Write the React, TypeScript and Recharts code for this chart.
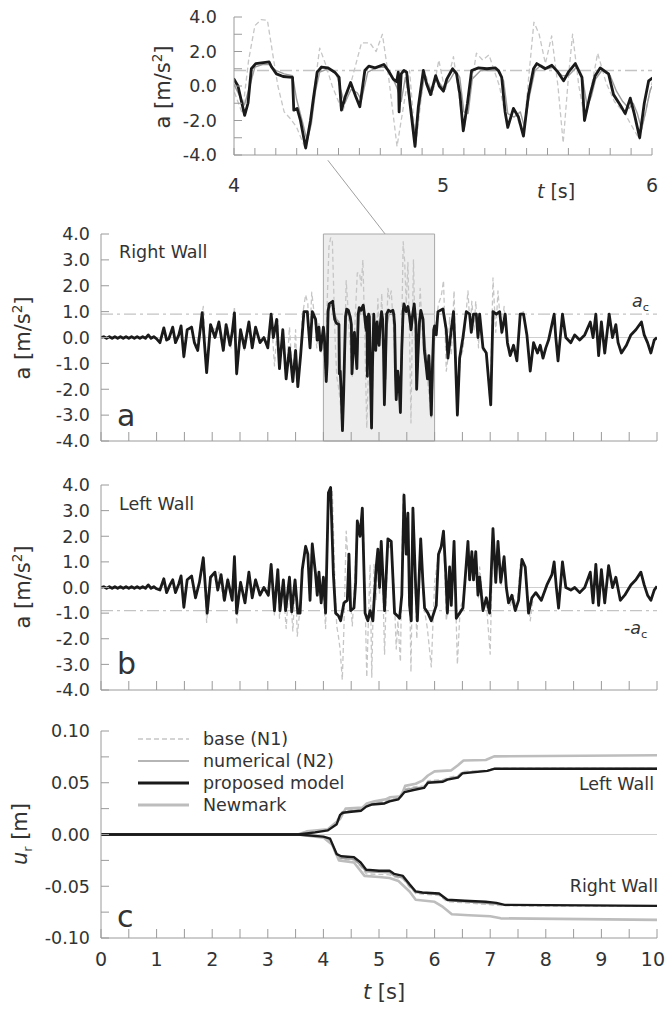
import React from "react";
import {
  ComposedChart,
  Line,
  XAxis,
  YAxis,
  ReferenceLine,
  ReferenceArea,
  Legend,
} from "recharts";

const FONT = "'DejaVu Sans', 'Liberation Sans', sans-serif";
const INK = "#333";
const AXIS = "#9a9a9a";

// ---- ticks -------------------------------------------------------------
const panelTimeTicks = [0, 0.5, 1, 1.5, 2, 2.5, 3, 3.5, 4, 4.5, 5, 5.5, 6, 6.5, 7, 7.5, 8, 8.5, 9, 9.5, 10];
const panelTimeLabels = [0, 1, 2, 3, 4, 5, 6, 7, 8, 9, 10];
const insetTimeTicks = [4, 4.1, 4.2, 4.3, 4.4, 4.5, 4.6, 4.7, 4.8, 4.9, 5, 5.1, 5.2, 5.3, 5.4, 5.5, 5.6, 5.7, 5.8, 5.9, 6];
const insetTimeLabels = [4, 5, 6];
const accTicks = [-4, -3, -2, -1, 0, 1, 2, 3, 4];
const insetAccLabels = [-4, -2, 0, 2, 4];
const dispTicks = [-0.1, -0.075, -0.05, -0.025, 0, 0.025, 0.05, 0.075, 0.1];
const dispLabels = [-0.1, -0.05, 0, 0.05, 0.1];
const A_C = 0.9;

// ---- accelerations [t (s), a (m/s2)] -----------------------------------
// proposed model, right wall (panel a + inset)
const rightWallAcc = [
  [0, 0], [0.05, 0.03], [0.1, -0.03], [0.15, 0.03], [0.2, -0.03], [0.25, 0.03], [0.3, -0.03],
  [0.35, 0.03], [0.4, -0.03], [0.45, 0.03], [0.5, -0.03], [0.55, 0.03], [0.6, -0.03], [0.65, 0.03],
  [0.7, -0.03], [0.75, 0.03], [0.8, -0.03], [0.85, 0.1], [0.9, -0.03], [0.95, 0.03], [1.0, -0.05],
  [1.06, -0.2], [1.13, 0.37], [1.18, -0.1], [1.22, -0.05], [1.29, 0.4], [1.34, -0.2], [1.4, 0.1],
  [1.44, 0.45], [1.49, -0.74], [1.55, 0.3], [1.63, 0.4], [1.68, -0.2], [1.74, -0.5], [1.82, 0.96],
  [1.9, -1.36], [1.97, 0.5], [2.05, 0], [2.12, 0.6], [2.2, -0.5], [2.25, 0.5], [2.32, -0.3],
  [2.36, 0.2], [2.4, 0.95], [2.44, -1.4], [2.51, 0.3], [2.58, -0.4], [2.66, 0.6], [2.72, -0.4],
  [2.78, 0.4], [2.86, -0.2], [2.93, 0], [3.0, -0.4], [3.06, 0.9], [3.1, 0], [3.16, 0.7],
  [3.21, -1.2], [3.27, 0.3], [3.33, -1.6], [3.39, -0.4], [3.45, -1.7], [3.5, -0.5], [3.54, -1.9],
  [3.59, -0.7], [3.65, 1.0], [3.71, 1.0], [3.76, -0.4], [3.8, 1.0], [3.86, 0.7], [3.89, -0.1],
  [3.92, 0.4], [3.95, -0.5],
  [4.0, 0.4], [4.019, 0], [4.051, -1.7], [4.067, -1.0], [4.083, 1.0], [4.104, 1.3], [4.168, 1.4],
  [4.18, 1.1], [4.203, 0.7], [4.235, 0.55], [4.28, 0.5], [4.286, -1.4], [4.302, -1.3], [4.318, -2.0],
  [4.343, -3.6], [4.366, -2.0], [4.379, -0.8], [4.398, 0.8], [4.419, 1.1], [4.45, 1.05], [4.482, 0.8],
  [4.503, 0.5], [4.514, -1.4], [4.533, -0.6], [4.558, 0.2], [4.582, -0.6], [4.602, -1.2], [4.626, 0.9],
  [4.645, 1.15], [4.675, 1.05], [4.717, 1.25], [4.738, 0.9], [4.762, 0.4], [4.778, 0.25], [4.786, 0.8],
  [4.79, -1.5], [4.8, 0.7], [4.813, 0.9], [4.826, 0.8], [4.842, -1.0], [4.866, -3.5], [4.882, -1.2],
  [4.906, 0.9], [4.922, 0.1], [4.941, -0.5], [4.965, 0.6], [4.982, 0], [5.002, -0.3], [5.018, 0.4],
  [5.046, 1.0], [5.065, 0.7], [5.081, -0.5], [5.097, -2.6], [5.117, -1.0], [5.137, 0.9], [5.17, 1.05],
  [5.21, 1.0], [5.25, 1.05], [5.265, 0.9], [5.281, 0.5], [5.297, -1.5], [5.31, -2.4], [5.337, -1.3],
  [5.361, -1.8], [5.385, -2.9], [5.409, -0.5], [5.433, 1.0], [5.449, 1.3], [5.489, 1.0], [5.521, 1.2],
  [5.55, 0.8], [5.577, 0.3], [5.6, 0.8], [5.633, 1.3], [5.665, 0.5], [5.677, -2.0], [5.704, -0.5],
  [5.728, 0.6], [5.752, 1.05], [5.792, 0.7], [5.816, -0.5], [5.848, -1.1], [5.872, -1.6], [5.896, -0.7],
  [5.915, -1.6], [5.941, -3.0], [5.963, -1.0], [5.984, 0.3], [6.0, 0.45],
  [6.03, 0.1], [6.06, 1.0], [6.15, 1.1], [6.21, 0.3], [6.24, -0.8], [6.3, 0.3], [6.34, 1.0],
  [6.37, -0.5], [6.41, -3.0], [6.45, -0.8], [6.51, 0], [6.57, 1.0], [6.63, 0.9], [6.66, 0.2],
  [6.7, 0.9], [6.75, 0.9], [6.78, 0], [6.81, 0.9], [6.87, -0.4], [6.93, -0.6], [7.01, -2.6],
  [7.05, 1.0], [7.11, 0.9], [7.17, 1.0], [7.21, 0.2], [7.27, 0.9], [7.31, -0.2], [7.36, -0.7],
  [7.42, -0.3], [7.48, -0.9], [7.54, 0.9], [7.6, 0.9], [7.66, 0.1], [7.72, -1.3], [7.78, -0.2],
  [7.85, -0.6], [7.9, -0.3], [7.95, -0.8], [8.0, -0.4], [8.05, -0.1], [8.11, 0.5], [8.15, 0.9],
  [8.18, 0], [8.22, -0.9], [8.3, 0.9], [8.36, 0], [8.45, -0.2], [8.52, 0.1], [8.61, -0.1],
  [8.7, 0.1], [8.8, 0.6], [8.85, 0], [8.9, 0.9], [8.95, -0.7], [9.0, 0.6], [9.06, -0.6],
  [9.14, 0.9], [9.2, 0], [9.26, 0.5], [9.3, -0.2], [9.36, -0.6], [9.45, -0.3], [9.53, 0.1],
  [9.62, 0.3], [9.72, 0.6], [9.77, 0.1], [9.83, -0.2], [9.89, -0.6], [9.95, -0.1], [10, 0],
];

// proposed model, left wall (panel b)
const leftWallAcc = [
  [0, 0], [0.05, 0.03], [0.1, -0.03], [0.15, 0.03], [0.2, -0.03], [0.25, 0.03], [0.3, -0.03],
  [0.35, 0.03], [0.4, -0.03], [0.45, 0.03], [0.5, -0.03], [0.55, 0.03], [0.6, -0.03], [0.65, 0.03],
  [0.7, -0.03], [0.75, 0.03], [0.8, -0.03], [0.85, 0.1], [0.9, -0.03], [0.95, 0.03], [1.0, -0.05],
  [1.06, -0.1], [1.13, 0.34], [1.18, -0.2], [1.24, 0.1], [1.29, 0.3], [1.34, -0.2], [1.4, 0.15],
  [1.44, 0.45], [1.49, -0.77], [1.55, 0.3], [1.63, 0.45], [1.7, -0.4], [1.77, 0.2], [1.84, 1.16],
  [1.91, -1.0], [1.97, 0.4], [2.05, 0.6], [2.1, -0.1], [2.16, 0.5], [2.22, -0.5], [2.28, 0.3],
  [2.36, -0.5], [2.4, 1.2], [2.44, -1.0], [2.51, 0.2], [2.59, -0.6], [2.66, 0.6], [2.72, -0.4],
  [2.78, 0.3], [2.86, -0.3], [2.93, 0], [3.01, -0.3], [3.06, 0.9], [3.12, -0.9], [3.18, 0.7],
  [3.22, -0.9], [3.28, 0.3], [3.32, -0.9], [3.39, 0.4], [3.43, -0.95], [3.49, 0.3], [3.54, -1.0],
  [3.58, -1.0], [3.62, 0.7], [3.68, 1.6], [3.72, 1.3], [3.76, -0.5], [3.8, 1.7], [3.86, 0.5],
  [3.89, -0.3], [3.92, 0.6], [3.96, -0.6], [4.0, 0.4], [4.04, -1.0], [4.09, 3.7], [4.13, 3.9],
  [4.18, 0.5], [4.22, -1.0], [4.27, -1.1], [4.31, -1.3], [4.37, -0.6], [4.43, -0.5], [4.46, 1.3],
  [4.49, -0.9], [4.55, -0.8], [4.58, 0.2], [4.61, 2.6], [4.66, 2.0], [4.7, 3.1], [4.75, -1.0],
  [4.8, -1.3], [4.84, -0.9], [4.89, -1.3], [4.95, 0.8], [4.98, 1.5], [5.01, 0], [5.04, 1.8],
  [5.1, -0.9], [5.16, 1.9], [5.22, 1.8], [5.28, -1.0], [5.33, -1.1], [5.37, -1.2], [5.41, -0.3],
  [5.45, 3.6], [5.49, 1.3], [5.52, 2.9], [5.55, -0.7], [5.58, -1.3], [5.61, 3.1], [5.66, 0],
  [5.69, -1.3], [5.75, 1.9], [5.79, 0.2], [5.82, -0.8], [5.88, -1.0], [5.94, -1.3], [6.0, -0.9],
  [6.03, -0.7], [6.07, 1.3], [6.12, 1.6], [6.16, 2.2], [6.2, 0.6], [6.23, -1.0], [6.27, 0.8],
  [6.3, -0.7], [6.35, 1.8], [6.39, -1.2], [6.45, -1.0], [6.51, -0.8], [6.6, 1.8], [6.63, 0.3],
  [6.67, 1.4], [6.7, 0.3], [6.74, 1.4], [6.78, -0.3], [6.81, 0.4], [6.87, -0.9], [6.93, -0.4],
  [6.99, -1.0], [7.05, 2.3], [7.1, 0.2], [7.14, 1.8], [7.19, 0.2], [7.25, 1.2], [7.29, 0],
  [7.33, -0.6], [7.39, -0.3], [7.45, -0.9], [7.51, -0.5], [7.57, 1.1], [7.63, 0.8], [7.69, -1.0],
  [7.75, -0.4], [7.82, -0.2], [7.92, -0.5], [8.02, 0.1], [8.11, 0.5], [8.15, 1.0], [8.19, 0],
  [8.23, -0.8], [8.3, 1.0], [8.36, 0], [8.45, -0.1], [8.52, 0], [8.61, -0.2], [8.7, 0],
  [8.8, 0.6], [8.85, -0.6], [8.9, 0.9], [8.95, -0.7], [9.0, 0.7], [9.06, -0.6], [9.13, 0.85],
  [9.2, 0], [9.26, 0.4], [9.34, -0.5], [9.42, -0.3], [9.53, 0.1], [9.62, 0.3], [9.71, 0.6],
  [9.77, 0.1], [9.83, -0.3], [9.89, -0.5], [9.95, -0.1], [10, 0.05],
];

// base (N1) input
const baseAcc = [
  [1.4, 0.15], [1.44, 0.45], [1.49, -0.8], [1.55, 0.3], [1.63, 0.45], [1.7, -0.4], [1.77, 0.2],
  [1.84, 1.2], [1.9, -1.36], [1.97, 0.45], [2.05, 0.3], [2.12, 0.6], [2.2, -0.5], [2.28, 0.4],
  [2.34, -0.4], [2.4, 1.2], [2.44, -1.45], [2.51, 0.25], [2.58, -0.5], [2.66, 0.6], [2.72, -0.4],
  [2.78, 0.35], [2.86, -0.25], [2.93, 0], [3.01, -0.35], [3.06, 0.9], [3.12, -1.1], [3.18, 0.7],
  [3.21, -1.2], [3.27, 0.3], [3.33, -1.6], [3.39, 0.4], [3.45, -1.7], [3.5, 0.3], [3.53, -1.9],
  [3.58, -0.8], [3.62, 0.8], [3.68, 1.65], [3.72, 1.3], [3.75, -0.4], [3.79, 1.75], [3.84, 0.8],
  [3.88, -0.4], [3.92, 0.6], [3.96, -0.6], [4.0, -0.3], [4.04, -1.6], [4.07, 1.5], [4.1, 3.5],
  [4.13, 3.85], [4.16, 3.8], [4.19, 1.5], [4.21, 0], [4.24, -1.5], [4.27, -1.9], [4.3, -2.4],
  [4.34, -3.6], [4.37, -1.5], [4.41, 2.2], [4.44, 1.2], [4.47, 0], [4.5, -0.9], [4.52, -1.5],
  [4.56, 0.2], [4.61, 2.5], [4.65, 2.5], [4.68, 2.0], [4.71, 3.0], [4.74, 0.5], [4.78, -3.5],
  [4.82, -0.5], [4.84, 0.9], [4.87, -3.5], [4.91, 0.9], [4.95, -0.5], [4.98, 1.5], [5.01, -0.3],
  [5.05, 1.7], [5.1, -2.6], [5.16, 1.9], [5.19, 1.5], [5.22, 1.8], [5.27, 0], [5.31, -2.4],
  [5.34, -1.3], [5.385, -2.9], [5.41, 0.5], [5.435, 3.7], [5.46, 3.0], [5.49, 1.3], [5.52, 2.9],
  [5.55, 0], [5.575, -3.3], [5.6, 0.5], [5.62, 3.0], [5.65, 0], [5.68, -2.0], [5.74, 1.9],
  [5.78, 0.2], [5.82, -0.9], [5.87, -1.6], [5.94, -3.1], [6.0, 0.2], [6.07, 1.3], [6.12, 1.6],
  [6.16, 2.2], [6.21, -1.3], [6.24, -0.8], [6.27, 0.8], [6.3, -0.7], [6.35, 1.8], [6.41, -3.0],
  [6.46, -0.8], [6.51, -0.5], [6.6, 1.8], [6.64, 0.3], [6.67, 1.4], [6.71, 0.3], [6.74, 1.4],
  [6.79, -0.4], [6.81, 0.8], [6.87, -0.5], [6.93, -0.6], [7.0, -2.6], [7.05, 2.3], [7.1, 0.2],
  [7.14, 1.8], [7.2, 0.1], [7.25, 1.2], [7.3, -0.3], [7.36, -0.7], [7.42, -0.3], [7.48, -0.9],
  [7.54, 0.9], [7.6, 1.0], [7.66, 0.1], [7.72, -1.3], [7.78, -0.3],
];

// numerical (N2), right wall, 4-6 s
const numericalRightAcc = [
  [4.0, 0.1], [4.02, -0.4], [4.05, -1.1], [4.08, 0.2], [4.1, 1.1], [4.14, 1.25], [4.17, 1.25],
  [4.2, 0.9], [4.24, 0.7], [4.28, 0.6], [4.3, -0.8], [4.33, -2.2], [4.35, -3.2], [4.37, -2.2],
  [4.39, -0.3], [4.41, 0.8], [4.45, 1.0], [4.49, 0.7], [4.51, -0.2], [4.53, -1.0], [4.56, -0.2],
  [4.59, -0.4], [4.61, -0.8], [4.64, 0.8], [4.68, 1.05], [4.72, 1.1], [4.75, 0.7], [4.78, -0.1],
  [4.8, -0.9], [4.82, 0.5], [4.85, -1.5], [4.87, -3.0], [4.89, -1.0], [4.91, 0.5], [4.94, -0.2],
  [4.97, 0.4], [5.0, -0.1], [5.03, 0.3], [5.06, 0.9], [5.08, 0.5], [5.1, -1.5], [5.12, -1.6],
  [5.14, 0.4], [5.18, 0.9], [5.26, 0.9], [5.29, 0.3], [5.31, -1.6], [5.34, -1.8], [5.37, -1.5],
  [5.39, -2.4], [5.41, -0.8], [5.44, 0.9], [5.47, 1.2], [5.5, 1.0], [5.53, 1.1], [5.57, 0.6],
  [5.6, 0.6], [5.64, 1.1], [5.67, 0.3], [5.69, -1.2], [5.71, -0.6], [5.73, 0.4], [5.76, 0.9],
  [5.8, 0.6], [5.83, -0.3], [5.86, -0.9], [5.89, -1.3], [5.91, -1.0], [5.93, -1.6], [5.95, -2.5],
  [5.97, -1.5], [5.99, -0.3], [6.0, 0],
];

// ---- relative displacements [t (s), u_r (m)] ---------------------------
const leftProposed = [
  [0, 0], [3.54, 0], [3.85, 0.002], [4.08, 0.004], [4.24, 0.01], [4.3, 0.019], [4.35, 0.021],
  [4.5, 0.022], [4.68, 0.023], [4.77, 0.027], [4.88, 0.029], [5.1, 0.03], [5.19, 0.032],
  [5.35, 0.034], [5.46, 0.041], [5.62, 0.043], [5.81, 0.045], [5.88, 0.05], [6.15, 0.051],
  [6.23, 0.053], [6.42, 0.055], [6.5, 0.059], [6.95, 0.0615], [7.07, 0.0635], [10, 0.0635],
];
const leftNumerical = [
  [0, 0], [3.54, 0], [3.85, 0.002], [4.08, 0.0045], [4.24, 0.011], [4.33, 0.021], [4.5, 0.023],
  [4.68, 0.024], [4.77, 0.028], [4.88, 0.03], [5.1, 0.031], [5.19, 0.033], [5.35, 0.035],
  [5.46, 0.043], [5.62, 0.045], [5.81, 0.046], [5.88, 0.051], [6.15, 0.052], [6.23, 0.054],
  [6.42, 0.056], [6.5, 0.06], [6.95, 0.062], [7.07, 0.0635], [10, 0.064],
];
const leftBase = [
  [0, 0], [3.54, 0], [3.8, 0.002], [4.08, 0.005], [4.22, 0.012], [4.33, 0.022], [4.5, 0.024],
  [4.68, 0.025], [4.77, 0.029], [4.88, 0.031], [5.1, 0.032], [5.19, 0.034], [5.35, 0.036],
  [5.46, 0.044], [5.62, 0.046], [5.81, 0.047], [5.88, 0.052], [6.15, 0.053], [6.23, 0.055],
  [6.42, 0.057], [6.5, 0.061], [6.95, 0.062], [7.07, 0.064], [10, 0.064],
];
const leftNewmark = [
  [0, 0], [3.54, 0], [3.7, 0.003], [4.08, 0.005], [4.3, 0.015], [4.4, 0.025], [4.7, 0.026],
  [4.78, 0.03], [4.92, 0.032], [5.12, 0.034], [5.2, 0.036], [5.4, 0.037], [5.47, 0.047],
  [5.66, 0.049], [5.78, 0.052], [5.88, 0.057], [6.0, 0.061], [6.3, 0.062], [6.42, 0.067],
  [6.52, 0.0715], [6.92, 0.072], [7.07, 0.0755], [10, 0.0765],
];
const rightProposed = [
  [0, 0], [3.54, 0], [4.0, -0.002], [4.12, -0.004], [4.24, -0.019], [4.32, -0.021], [4.55, -0.022],
  [4.67, -0.027], [4.77, -0.034], [5.0, -0.035], [5.19, -0.035], [5.27, -0.038], [5.43, -0.04],
  [5.55, -0.048], [5.66, -0.055], [5.78, -0.056], [6.08, -0.057], [6.23, -0.063], [6.54, -0.064],
  [6.92, -0.065], [7.11, -0.066], [7.26, -0.068], [10, -0.069],
];
const rightNumerical = [
  [0, 0], [3.54, 0], [4.0, -0.0025], [4.12, -0.005], [4.24, -0.021], [4.32, -0.023], [4.55, -0.024],
  [4.67, -0.03], [4.77, -0.036], [5.19, -0.037], [5.27, -0.04], [5.43, -0.042], [5.55, -0.05],
  [5.66, -0.056], [6.08, -0.058], [6.23, -0.064], [6.54, -0.065], [7.26, -0.068], [10, -0.069],
];
const rightBase = [
  [0, 0], [3.54, 0], [4.0, -0.003], [4.12, -0.006], [4.24, -0.022], [4.32, -0.024], [4.55, -0.025],
  [4.67, -0.031], [4.77, -0.038], [5.19, -0.039], [5.27, -0.041], [5.43, -0.043], [5.55, -0.051],
  [5.66, -0.057], [6.08, -0.059], [6.23, -0.065], [6.54, -0.066], [7.26, -0.069], [10, -0.0695],
];
const rightNewmark = [
  [0, 0], [3.54, 0], [4.0, -0.003], [4.16, -0.01], [4.28, -0.025], [4.55, -0.027], [4.74, -0.04],
  [5.0, -0.041], [5.19, -0.042], [5.35, -0.045], [5.55, -0.055], [5.66, -0.063], [6.0, -0.065],
  [6.15, -0.07], [6.31, -0.077], [6.62, -0.078], [7.0, -0.079], [7.19, -0.081], [10, -0.0825],
];

const legendNames = ["base (N1)", "numerical (N2)", "proposed model", "Newmark"];

// line looks, shared by series and legend
const STYLE: Record<string, { stroke: string; width: number; dash?: string }> = {
  "base (N1)": { stroke: "#c6c6c6", width: 1.3, dash: "5 3" },
  "numerical (N2)": { stroke: "#9c9c9c", width: 1.4 },
  "proposed model": { stroke: "#1a1a1a", width: 2.8 },
  Newmark: { stroke: "#bdbdbd", width: 2.6 },
};

const pts = (pairs: number[][]) => pairs.map(([t, v]) => ({ t, v }));

const hasLabel = (labels: number[], v: number) => labels.some((l) => Math.abs(l - v) < 1e-6);

// inward tick marks, labels outside; the last label is kept inside the frame
function xTick(labels: number[], fontSize: number, dy: number, len: number, lastValue?: number) {
  return (props: any) => {
    const { x, y, payload } = props;
    const v = payload.value as number;
    const isLast = lastValue !== undefined && Math.abs(v - lastValue) < 1e-6;
    return (
      <g>
        <line x1={x} y1={y} x2={x} y2={y - len} stroke={AXIS} strokeWidth={1} />
        {hasLabel(labels, v) && (
          <text
            x={isLast ? x + 8 : x}
            y={y + dy}
            textAnchor={isLast ? "end" : "middle"}
            fontSize={fontSize}
            fontFamily={FONT}
            fill={INK}
          >
            {v.toFixed(0)}
          </text>
        )}
      </g>
    );
  };
}

function yTick(labels: number[], digits: number, fontSize: number, gap: number) {
  return (props: any) => {
    const { x, y, payload } = props;
    const v = payload.value as number;
    return (
      <g>
        <line x1={x} y1={y} x2={x + 8} y2={y} stroke={AXIS} strokeWidth={1} />
        {hasLabel(labels, v) && (
          <text x={x - gap} y={y} dy="0.36em" textAnchor="end" fontSize={fontSize} fontFamily={FONT} fill={INK}>
            {v.toFixed(digits)}
          </text>
        )}
      </g>
    );
  };
}

function Note({ x, y, size = 17.5, anchor = "start", children, rotate = false }: any) {
  const tx = anchor === "start" ? "0" : anchor === "end" ? "-100%" : "-50%";
  return (
    <div
      style={{
        position: "absolute",
        left: x,
        top: y,
        transform: rotate ? "translate(-50%, -50%) rotate(-90deg)" : `translate(${tx}, -50%)`,
        fontSize: size,
        fontFamily: FONT,
        color: INK,
        whiteSpace: "nowrap",
        lineHeight: 1,
      }}
    >
      {children}
    </div>
  );
}

const AccTitle = () => (
  <span>
    a [m/s<sup style={{ fontSize: "0.65em", verticalAlign: "0.55em" }}>2</sup>]
  </span>
);

function series(name: string, data: number[][], key: string, widthScale = 1) {
  const s = STYLE[name];
  return (
    <Line
      key={key}
      name={name}
      data={pts(data)}
      dataKey="v"
      type="linear"
      stroke={s.stroke}
      strokeWidth={s.width * widthScale}
      strokeDasharray={s.dash}
      strokeLinejoin="round"
      dot={false}
      activeDot={false}
      isAnimationActive={false}
      legendType="none"
    />
  );
}

function InsetChart() {
  return (
    <div style={{ position: "absolute", left: 0, top: 0 }}>
      <ComposedChart width={667} height={200} margin={{ top: 17, right: 15, bottom: 0, left: 0 }}>
        <XAxis
          type="number"
          dataKey="t"
          domain={[4, 6]}
          ticks={insetTimeTicks}
          interval={0}
          allowDataOverflow
          height={45}
          tickSize={0}
          tickMargin={0}
          tickLine={false}
          axisLine={{ stroke: AXIS }}
          tick={xTick(insetTimeLabels, 19, 37, 7)}
        />
        <YAxis
          type="number"
          domain={[-4, 4]}
          ticks={accTicks}
          interval={0}
          allowDataOverflow
          width={234}
          tickSize={0}
          tickMargin={0}
          tickLine={false}
          axisLine={{ stroke: AXIS }}
          tick={yTick(insetAccLabels, 1, 17.5, 17)}
        />
        <ReferenceLine y={A_C} stroke="#c4c4c4" strokeWidth={1.3} strokeDasharray="12 4 3 4" />
        {series("base (N1)", baseAcc, "b")}
        {series("numerical (N2)", numericalRightAcc, "n")}
        {series("proposed model", rightWallAcc, "p", 1.0)}
      </ComposedChart>
    </div>
  );
}

function AccPanel({ top, height, marginTop, axisH, data, extra, acLevel, link }: any) {
  return (
    <div style={{ position: "absolute", left: 0, top }}>
      <ComposedChart width={667} height={height} margin={{ top: marginTop, right: 10, bottom: 0, left: 0 }}>
        <XAxis
          type="number"
          dataKey="t"
          domain={[0, 10]}
          ticks={panelTimeTicks}
          interval={0}
          allowDataOverflow
          height={axisH}
          tickSize={0}
          tickMargin={0}
          tickLine={false}
          axisLine={{ stroke: AXIS }}
          tick={xTick([], 16, 20, 9)}
        />
        <YAxis
          type="number"
          domain={[-4, 4]}
          ticks={accTicks}
          interval={0}
          allowDataOverflow
          width={101}
          tickSize={0}
          tickMargin={0}
          tickLine={false}
          axisLine={{ stroke: AXIS }}
          tick={yTick(accTicks, 1, 17.5, 11)}
        />
        {link && (
          <ReferenceArea x1={4} x2={6} y1={-4} y2={4} fill="#ededed" fillOpacity={1} stroke="#a8a8a8" strokeWidth={1} />
        )}
        {link && (
          <ReferenceLine
            segment={[{ x: 4.08, y: 6.85 }, { x: 5.11, y: 4 }]}
            stroke="#a0a0a0"
            strokeWidth={1}
            ifOverflow="visible"
          />
        )}
        <ReferenceLine y={0} stroke="#cfcfcf" strokeWidth={1.2} />
        <ReferenceLine y={acLevel} stroke="#c4c4c4" strokeWidth={1.3} strokeDasharray="12 4 3 4" />
        {series("base (N1)", baseAcc, "b")}
        {extra}
        {series("proposed model", data, "p")}
      </ComposedChart>
    </div>
  );
}

const renderLegend = () => (
  <div style={{ fontFamily: FONT, fontSize: 17.5, color: INK }}>
    {legendNames.map((name) => {
      const s = STYLE[name];
      return (
        <div key={name} style={{ display: "flex", alignItems: "center", height: 22 }}>
          <svg width={65} height={10} style={{ marginLeft: 10 }}>
            <line x1={0} y1={5} x2={51} y2={5} stroke={s.stroke} strokeWidth={s.width + 0.3} strokeDasharray={s.dash} />
          </svg>
          <span>{name}</span>
        </div>
      );
    })}
  </div>
);

function DispPanel() {
  return (
    <div style={{ position: "absolute", left: 0, top: 715 }}>
      <ComposedChart width={667} height={290} margin={{ top: 16, right: 10, bottom: 0, left: 0 }}>
        <XAxis
          type="number"
          dataKey="t"
          domain={[0, 10]}
          ticks={panelTimeTicks}
          interval={0}
          allowDataOverflow
          height={67}
          tickSize={0}
          tickMargin={0}
          tickLine={false}
          axisLine={{ stroke: AXIS }}
          tick={xTick(panelTimeLabels, 19, 28, 9, 10)}
        />
        <YAxis
          type="number"
          domain={[-0.1, 0.1]}
          ticks={dispTicks}
          interval={0}
          allowDataOverflow
          width={101}
          tickSize={0}
          tickMargin={0}
          tickLine={false}
          axisLine={{ stroke: AXIS }}
          tick={yTick(dispLabels, 2, 17.5, 11)}
        />
        <ReferenceLine y={0} stroke="#cfcfcf" strokeWidth={1.2} />
        {series("base (N1)", leftBase, "lb")}
        {series("base (N1)", rightBase, "rb")}
        {series("numerical (N2)", leftNumerical, "ln")}
        {series("numerical (N2)", rightNumerical, "rn")}
        {series("Newmark", leftNewmark, "lw")}
        {series("Newmark", rightNewmark, "rw")}
        {series("proposed model", leftProposed, "lp", 0.85)}
        {series("proposed model", rightProposed, "rp", 0.85)}
        <Legend
          layout="horizontal"
          verticalAlign="middle"
          align="center"
          content={renderLegend}
          wrapperStyle={{ left: 128, top: 13, width: 260 }}
        />
      </ComposedChart>
    </div>
  );
}

export default function App() {
  return (
    <div style={{ position: "absolute", left: 0, top: 0, width: 667, height: 1011, background: "#fff" }}>
      <InsetChart />
      <AccPanel top={150} height={300} marginTop={84} axisH={9} data={rightWallAcc} acLevel={A_C} link
        extra={series("numerical (N2)", numericalRightAcc, "n")} />
      <AccPanel top={470} height={230} marginTop={15} axisH={10} data={leftWallAcc} acLevel={-A_C} />
      <DispPanel />

      {/* axis titles */}
      <Note x={162} y={87} size={21} rotate><AccTitle /></Note>
      <Note x={556} y={191} size={19} anchor="middle"><i>t</i> [s]</Note>
      <Note x={22} y={338} size={21} rotate><AccTitle /></Note>
      <Note x={22} y={587} size={21} rotate><AccTitle /></Note>
      <Note x={22} y={834} size={21} rotate>
        <span><i>u</i><sub style={{ fontSize: "0.6em" }}>r</sub> [m]</span>
      </Note>
      <Note x={384} y={992} size={21} anchor="middle"><i>t</i> [s]</Note>

      {/* panel annotations */}
      <Note x={119} y={253}>Right Wall</Note>
      <Note x={117} y={416} size={30}>a</Note>
      <Note x={632} y={303}><i>a</i><sub style={{ fontSize: "0.65em" }}>c</sub></Note>
      <Note x={119} y={505}>Left Wall</Note>
      <Note x={117} y={664} size={30}>b</Note>
      <Note x={624} y={630}>-<i>a</i><sub style={{ fontSize: "0.65em" }}>c</sub></Note>
      <Note x={654} y={785} anchor="end">Left Wall</Note>
      <Note x={658} y={887} anchor="end">Right Wall</Note>
      <Note x={117} y={917} size={30}>c</Note>
    </div>
  );
}
